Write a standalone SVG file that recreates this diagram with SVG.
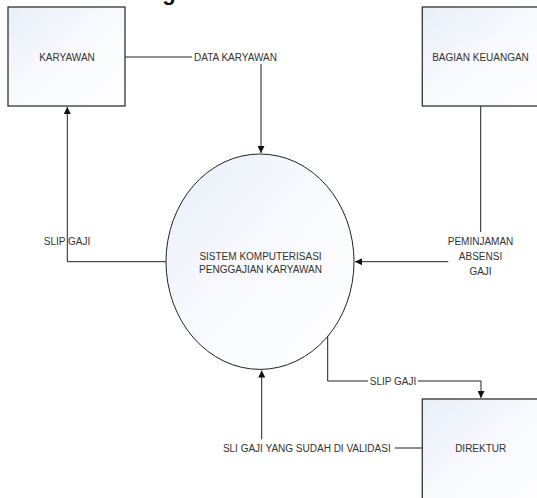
<svg xmlns="http://www.w3.org/2000/svg" width="537" height="498" viewBox="0 0 537 498">
<defs>
<linearGradient id="g" x1="0" y1="0" x2="1" y2="1">
<stop offset="0" stop-color="#e8eef9"/>
<stop offset="0.45" stop-color="#f8f9fd"/>
<stop offset="1" stop-color="#ffffff"/>
</linearGradient>
<marker id="arr" viewBox="0 0 10 10" refX="10" refY="5" markerWidth="7" markerHeight="7" markerUnits="userSpaceOnUse" orient="auto">
<path d="M0,0 L10,5 L0,10 Z" fill="#111"/>
</marker>
<style>
.box{fill:url(#g);stroke:#333;stroke-width:1.3}
.ell{fill:url(#g);stroke:#222;stroke-width:1}
.lbl{font-family:"Liberation Sans",Arial,sans-serif;font-size:10px;fill:#333;text-anchor:middle;dominant-baseline:central}
.ln{fill:none;stroke:#222;stroke-width:1}
.t{font-family:"Liberation Sans",Arial,sans-serif;font-size:22px;font-weight:bold;fill:#111}
</style>
</defs>
<rect width="537" height="498" fill="#fff"/>
<text class="t" x="128" y="-0.5">Diagram</text>
<g id="connectors">
<path class="ln" d="M125,57 H192"/>
<path class="ln" d="M261,64 V153" marker-end="url(#arr)"/>
<path class="ln" d="M166,261.7 H67.3 V107" marker-end="url(#arr)"/>
<path class="ln" d="M480.7,106 V232"/>
<path class="ln" d="M448.3,261.7 H355" marker-end="url(#arr)"/>
<path class="ln" d="M327.7,336.5 V381 H368"/>
<path class="ln" d="M418,381 H481 V398" marker-end="url(#arr)"/>
<path class="ln" d="M422,448 H395"/>
<path class="ln" d="M261.7,439.3 V370.5" marker-end="url(#arr)"/>
<text class="lbl" x="235.5" y="57">DATA KARYAWAN</text>
<text class="lbl" x="67" y="241">SLIP GAJI</text>
<text class="lbl" x="480.5" y="241">PEMINJAMAN</text>
<text class="lbl" x="480.5" y="256">ABSENSI</text>
<text class="lbl" x="480.5" y="271">GAJI</text>
<text class="lbl" x="393" y="381">SLIP GAJI</text>
<text class="lbl" x="306.8" y="448">SLI GAJI YANG SUDAH DI VALIDASI</text>
</g>
<g id="karyawan">
<rect class="box" x="8" y="7" width="117" height="99"/>
<text class="lbl" x="67" y="57">KARYAWAN</text>
</g>
<g id="bagian-keuangan">
<rect class="box" x="422.3" y="7" width="130" height="99"/>
<text class="lbl" x="480.5" y="57">BAGIAN KEUANGAN</text>
</g>
<g id="sistem">
<ellipse class="ell" cx="260" cy="261.7" rx="94" ry="107.7"/>
<text class="lbl" x="260.5" y="256">SISTEM KOMPUTERISASI</text>
<text class="lbl" x="260.5" y="269.5">PENGGAJIAN KARYAWAN</text>
</g>
<g id="direktur">
<rect class="box" x="422.3" y="399" width="130" height="110"/>
<text class="lbl" x="480.7" y="448.3">DIREKTUR</text>
</g>
</svg>
